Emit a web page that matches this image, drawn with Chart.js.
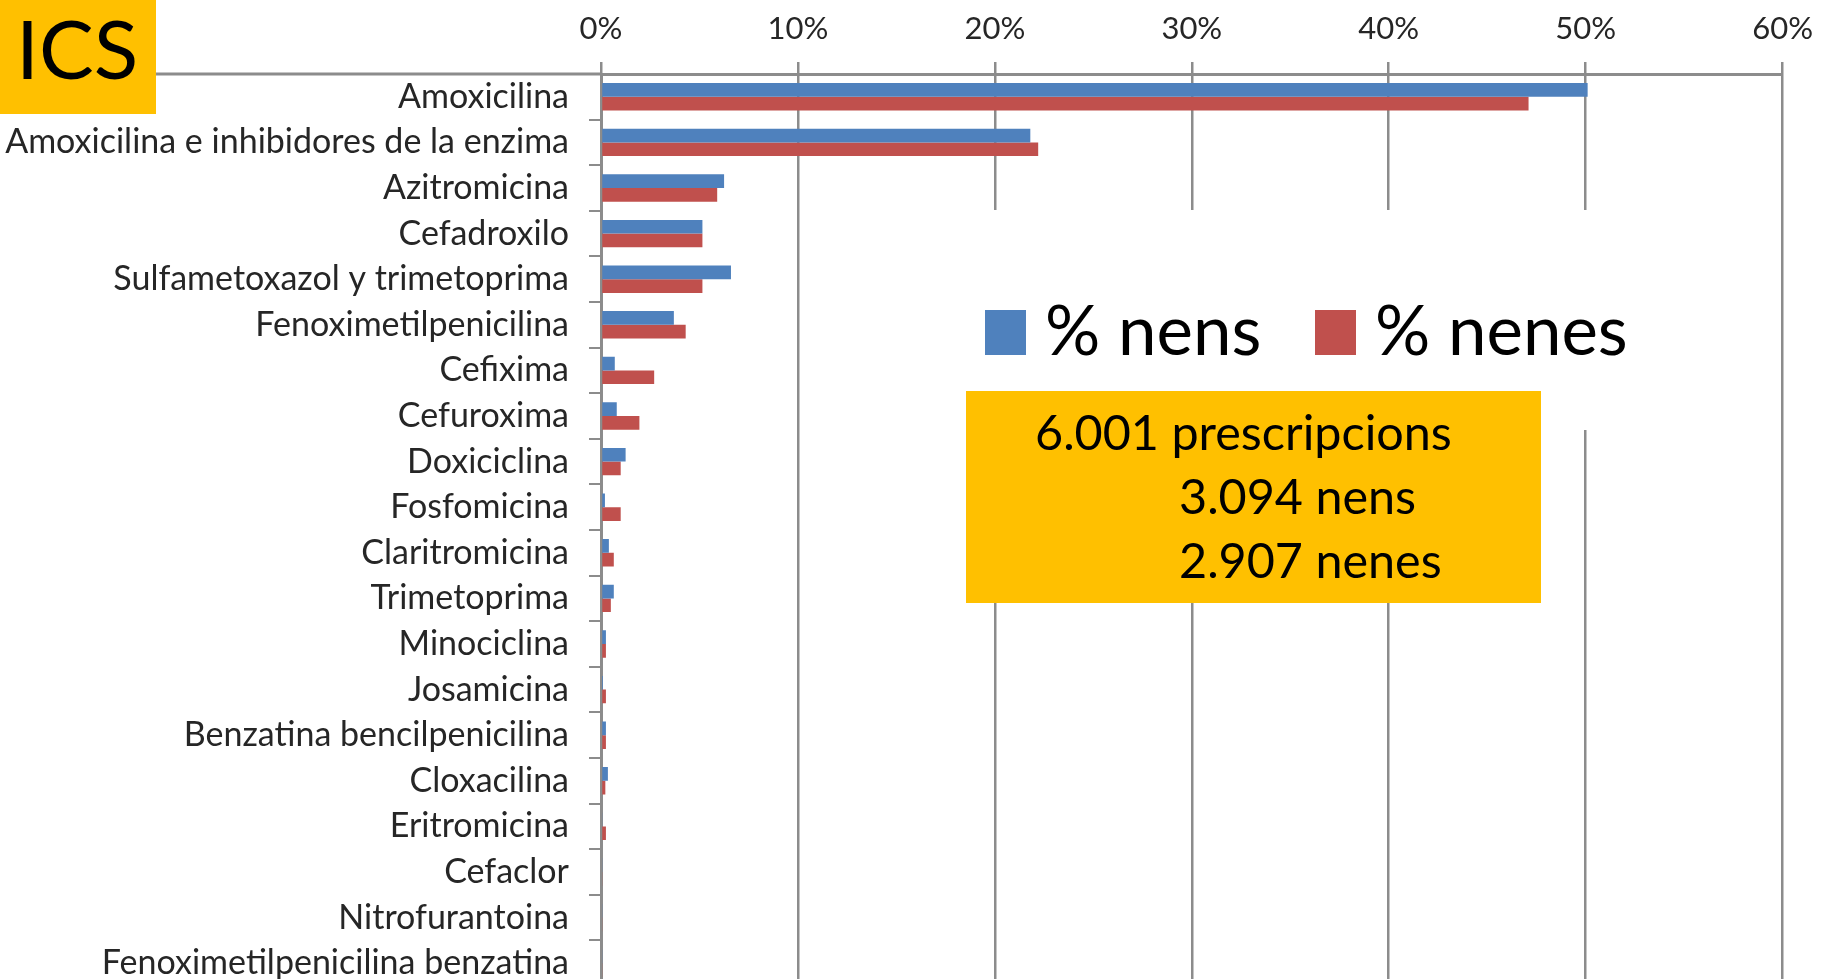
<!DOCTYPE html>
<html lang="ca">
<head>
    <meta charset="UTF-8">
    <title>ICS - antibiòtics per sexe</title>
    <style>
        body {
            margin: 0;
            padding: 0;
            width: 1827px;
            height: 979px;
            overflow: hidden;
            background: #ffffff;
            font-family: Lato, "Open Sans", sans-serif;
            position: relative;
        }
        #abChart {
            position: absolute;
            left: 0;
            top: 0;
        }
        #ics {
            position: absolute;
            left: 0;
            top: 0;
            width: 156px;
            height: 114px;
            background: #FFC000;
            color: #000;
            font-size: 82px;
            line-height: 82px;
            padding-left: 16px;
            padding-top: 6px;
            box-sizing: border-box;
        }
        #legend {
            position: absolute;
            left: 965px;
            top: 210px;
            width: 675px;
            height: 220px;
            background: #ffffff;
        }
        #legend .sw {
            position: absolute;
            top: 100px;
            width: 41px;
            height: 45px;
        }
        #legend .lab {
            position: absolute;
            top: 84px;
            font-size: 69px;
            line-height: 69px;
            color: #000;
            white-space: nowrap;
        }
        #info {
            position: absolute;
            left: 966px;
            top: 391px;
            width: 575px;
            height: 212px;
            background: #FFC000;
        }
        #info div {
            position: absolute;
            font-size: 48.5px;
            line-height: 64px;
            color: #000;
            white-space: nowrap;
        }
    </style>
    <script src="https://cdn.jsdelivr.net/npm/chart.js"></script>
</head>
<body>
    <canvas id="abChart" width="1827" height="1000"></canvas>
    <div id="ics">ICS</div>
    <div id="legend"></div>
    <div id="info">
        <div style="left:69px; top:8px;">6.001 prescripcions</div>
        <div style="left:213px; top:72px;">3.094 nens</div>
        <div style="left:213px; top:136px;">2.907 nenes</div>
    </div>

    <script>
        const antibiotics = [
            'Amoxicilina',
            'Amoxicilina e inhibidores de la enzima',
            'Azitromicina',
            'Cefadroxilo',
            'Sulfametoxazol y trimetoprima',
            'Fenoximetilpenicilina',
            'Cefixima',
            'Cefuroxima',
            'Doxiciclina',
            'Fosfomicina',
            'Claritromicina',
            'Trimetoprima',
            'Minociclina',
            'Josamicina',
            'Benzatina bencilpenicilina',
            'Cloxacilina',
            'Eritromicina',
            'Cefaclor',
            'Nitrofurantoina',
            'Fenoximetilpenicilina benzatina'
        ];
        // % sobre el total de prescripcions de cada grup
        const pctNens  = [50.1, 21.8, 6.25, 5.15, 6.6, 3.7, 0.7, 0.8, 1.25, 0.2, 0.4, 0.65, 0.25, 0.1, 0.25, 0.35, 0.07, 0.07, 0.07, 0.07];
        const pctNenes = [47.1, 22.2, 5.9, 5.15, 5.15, 4.3, 2.7, 1.95, 1.0, 1.0, 0.65, 0.5, 0.25, 0.25, 0.25, 0.22, 0.25, 0.07, 0.07, 0.07];
        const seriesLabels = ['% nens', '% nenes'];
        const seriesColors = ['#4F81BD', '#C0504D'];
        const xTicks = [0, 10, 20, 30, 40, 50, 60];

        const axisGrey = '#8c8c8c';
        const textColor = '#262626';

        // linia de l'eix superior que continua cap a l'esquerra
        const topLinePlugin = {
            id: 'topLine',
            afterDraw(chart) {
                const ctx = chart.ctx;
                const a = chart.chartArea;
                ctx.save();
                ctx.strokeStyle = axisGrey;
                ctx.lineWidth = 3;
                ctx.beginPath();
                ctx.moveTo(0, a.top);
                ctx.lineTo(a.left, a.top);
                ctx.stroke();
                ctx.restore();
            }
        };

        const abChart = new Chart(document.getElementById('abChart'), {
            type: 'bar',
            data: {
                labels: antibiotics,
                datasets: [
                    { label: seriesLabels[0], data: pctNens, backgroundColor: seriesColors[0] },
                    { label: seriesLabels[1], data: pctNenes, backgroundColor: seriesColors[1] }
                ]
            },
            options: {
                indexAxis: 'y',
                responsive: false,
                animation: false,
                layout: { padding: { left: 0, top: 0, right: 38, bottom: 14 } },
                datasets: {
                    bar: { categoryPercentage: 0.6, barPercentage: 1.0, borderWidth: 0 }
                },
                plugins: {
                    legend: { display: false },
                    tooltip: { enabled: false }
                },
                scales: {
                    x: {
                        position: 'top',
                        min: xTicks[0],
                        max: xTicks[xTicks.length - 1],
                        afterBuildTicks: s => { s.ticks = xTicks.map(v => ({ value: v })); },
                        afterFit: s => { s.height = 74; },
                        ticks: {
                            callback: v => v + '%',
                            color: textColor,
                            font: { family: 'Lato', size: 31 },
                            padding: 14,
                            maxRotation: 0
                        },
                        grid: {
                            color: axisGrey,
                            lineWidth: 2.5,
                            tickLength: 12
                        },
                        border: { color: axisGrey, width: 3 }
                    },
                    y: {
                        afterFit: s => {
                            s.width = 601;
                            s.paddingTop = 0;
                            s.paddingBottom = 0;
                        },
                        ticks: {
                            color: textColor,
                            font: { family: 'Lato', size: 34 },
                            padding: 20,
                            autoSkip: false
                        },
                        grid: {
                            offset: true,
                            drawOnChartArea: false,
                            color: axisGrey,
                            lineWidth: 2,
                            tickLength: 12
                        },
                        border: { color: axisGrey, width: 3 }
                    }
                }
            },
            plugins: [topLinePlugin]
        });

        // llegenda feta a partir dels datasets
        const legendBox = document.getElementById('legend');
        const legendX = [20, 350];
        abChart.data.datasets.forEach((ds, i) => {
            const sw = document.createElement('span');
            sw.className = 'sw';
            sw.style.left = legendX[i] + 'px';
            sw.style.background = ds.backgroundColor;
            const lab = document.createElement('span');
            lab.className = 'lab';
            lab.style.left = (legendX[i] + 60) + 'px';
            lab.textContent = ds.label;
            legendBox.appendChild(sw);
            legendBox.appendChild(lab);
        });
    </script>
</body>
</html>
